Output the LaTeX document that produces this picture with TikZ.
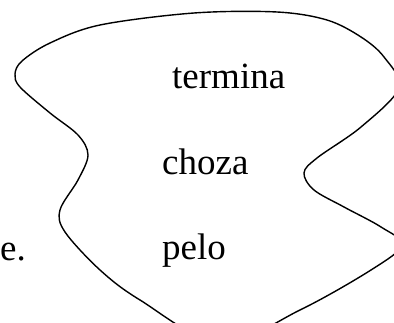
\documentclass[tikz,border=0pt]{standalone}
\usepackage{fontspec}
\setmainfont{Liberation Serif}
\begin{document}
\begin{tikzpicture}[x=1pt,y=-1pt,
  word/.style={inner sep=0pt,anchor=base west,font=\fontsize{37}{40}\selectfont},
  blob/.style={line width=1.4pt,black}]
\useasboundingbox (0,0) rectangle (394,323);
\clip (0,0) rectangle (394,323);
\draw[blob] plot[smooth cycle,tension=0.55] coordinates {
  (15,74) (20,87) (50,113) (78,135) (88,155) (78,180) (60,210) (65,232) (100,270) (140,300)
  (220,343) (300,310) (371,270) (402,245) (381,227) (344,207) (314,190)
  (304,173) (317,158) (361,127) (399,88) (384,57) (361,37) (327,20)
  (277,12) (194,13) (100,25) (50,43) (22,61)};
\node[word] (t) at (172,89) {termina};
\node[word] (c) at (162,175) {choza};
\node[word] (p) at (162,260) {pelo};
\node[word] (e) at (0,261) {e.};
\end{tikzpicture}
\end{document}
